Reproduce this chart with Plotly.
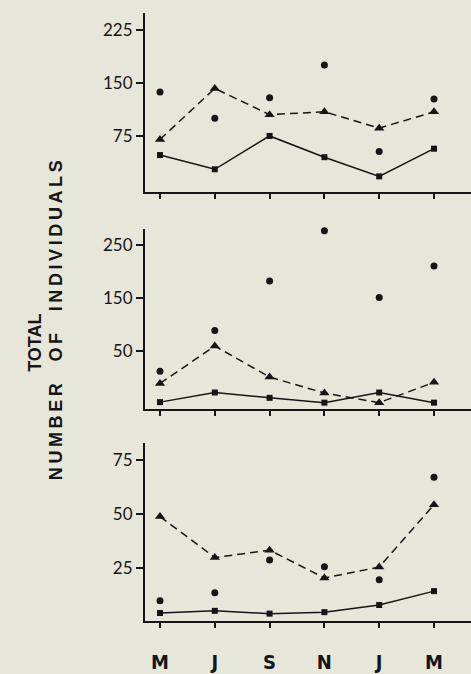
import plotly.graph_objects as go

months = ["M", "J", "S", "N", "J", "M"]
xpos = [0, 1, 2, 3, 4, 5]

# Panel 1 (top)
p1_circles = [137, 100, 129, 175, 53, 127]
p1_triangles = [70, 142, 105, 109, 86, 109]
p1_squares = [48, 28, 75, 45, 18, 57]
p1_ticks = [75, 150, 225]

# Panel 2 (middle)
p2_circles = [13, 89, 182, 276, 151, 210]
p2_triangles = [-10, 60, 2, -28, -46, -8]
p2_squares = [-45, -27, -37, -46, -27, -46]
p2_ticks = [50, 150, 250]

# Panel 3 (bottom)
p3_circles = [10, 13.6, 28.8, 25.6, 19.7, 67]
p3_triangles = [48.8, 29.9, 33.3, 20.5, 25.5, 54.3]
p3_squares = [4.3, 5.3, 4.0, 4.7, 8.0, 14.4]
p3_ticks = [25, 50, 75]

title_line1 = "TOTAL"
title_line2 = ["NUMBER", "OF", "INDIVIDUALS"]

W, H = 471, 674
INK = "#151515"
BG = "#e7e6da"

panels = [
    dict(c=p1_circles, t=p1_triangles, s=p1_squares, ticks=p1_ticks, rng=[-4.2, 248.6], top=13, bot=195),
    dict(c=p2_circles, t=p2_triangles, s=p2_squares, ticks=p2_ticks, rng=[-57.6, 280], top=232, bot=415),
    dict(c=p3_circles, t=p3_triangles, s=p3_squares, ticks=p3_ticks, rng=[0.77, 82.6], top=450, bot=630),
]

fig = go.Figure()
layout = dict(
    width=W, height=H, margin=dict(l=0, r=0, t=0, b=0),
    paper_bgcolor=BG, plot_bgcolor=BG, showlegend=False,
)

x0 = 160
dx = 54.8
xr = [(145 - x0) / dx, (W - x0) / dx]

for i, p in enumerate(panels, start=1):
    xa = "x" if i == 1 else f"x{i}"
    ya = "y" if i == 1 else f"y{i}"
    fig.add_trace(go.Scatter(x=xpos, y=p["s"], xaxis=xa, yaxis=ya, mode="lines+markers",
                             line=dict(color=INK, width=1.5),
                             marker=dict(symbol="square", size=6, color=INK), cliponaxis=False))
    fig.add_trace(go.Scatter(x=xpos, y=p["t"], xaxis=xa, yaxis=ya, mode="lines+markers",
                             line=dict(color=INK, width=1.5, dash="8px,5px"),
                             marker=dict(symbol="triangle-up", size=9, color=INK), cliponaxis=False))
    fig.add_trace(go.Scatter(x=xpos, y=p["c"], xaxis=xa, yaxis=ya, mode="markers",
                             marker=dict(symbol="circle", size=7, color=INK), cliponaxis=False))
    xkey = "xaxis" if i == 1 else f"xaxis{i}"
    ykey = "yaxis" if i == 1 else f"yaxis{i}"
    layout[xkey] = dict(
        domain=[145 / W, 1], range=xr, anchor=ya,
        showgrid=False, zeroline=False, showline=True, linecolor=INK, linewidth=2,
        ticks="outside", ticklen=5, tickwidth=1.5, tickcolor=INK,
        tickvals=xpos, ticktext=months, showticklabels=(i == 3),
        ticklabelstandoff=17,
        tickfont=dict(family="Liberation Sans Narrow, DejaVu Sans Condensed, Arial Narrow", size=20, color=INK, weight="bold"),
    )
    layout[ykey] = dict(
        domain=[1 - p["bot"] / H, 1 - p["top"] / H], range=p["rng"], anchor=xa,
        showgrid=False, zeroline=False, showline=True, linecolor=INK, linewidth=2,
        ticks="outside", ticklen=7, tickwidth=1.5, tickcolor=INK,
        tickvals=p["ticks"], ticktext=[str(v) for v in p["ticks"]],
        tickfont=dict(family="Lato, Inter, sans-serif", size=17, color=INK),
    )

fig.update_layout(**layout)

TS = "\u2009"  # thin space used as letter spacing


def spaced(word):
    return TS.join(word)


line2 = (TS * 6).join(spaced(w) for w in title_line2)

fig.add_annotation(text=title_line1, xref="paper", yref="paper", x=35 / W, y=1 - 348 / H,
                   xanchor="center", yanchor="middle",
                   textangle=-90, showarrow=False,
                   font=dict(family="Liberation Sans, DejaVu Sans", size=18, color=INK, weight="bold"))
fig.add_annotation(text=line2, xref="paper", yref="paper", x=56 / W, y=1 - 325 / H,
                   xanchor="center", yanchor="middle",
                   textangle=-90, showarrow=False,
                   font=dict(family="Liberation Sans, DejaVu Sans", size=18, color=INK, weight="bold"))

fig.write_html("out.html", config={"displayModeBar": False},
               post_script="document.body.style.margin='0px';document.body.style.padding='0px';")
